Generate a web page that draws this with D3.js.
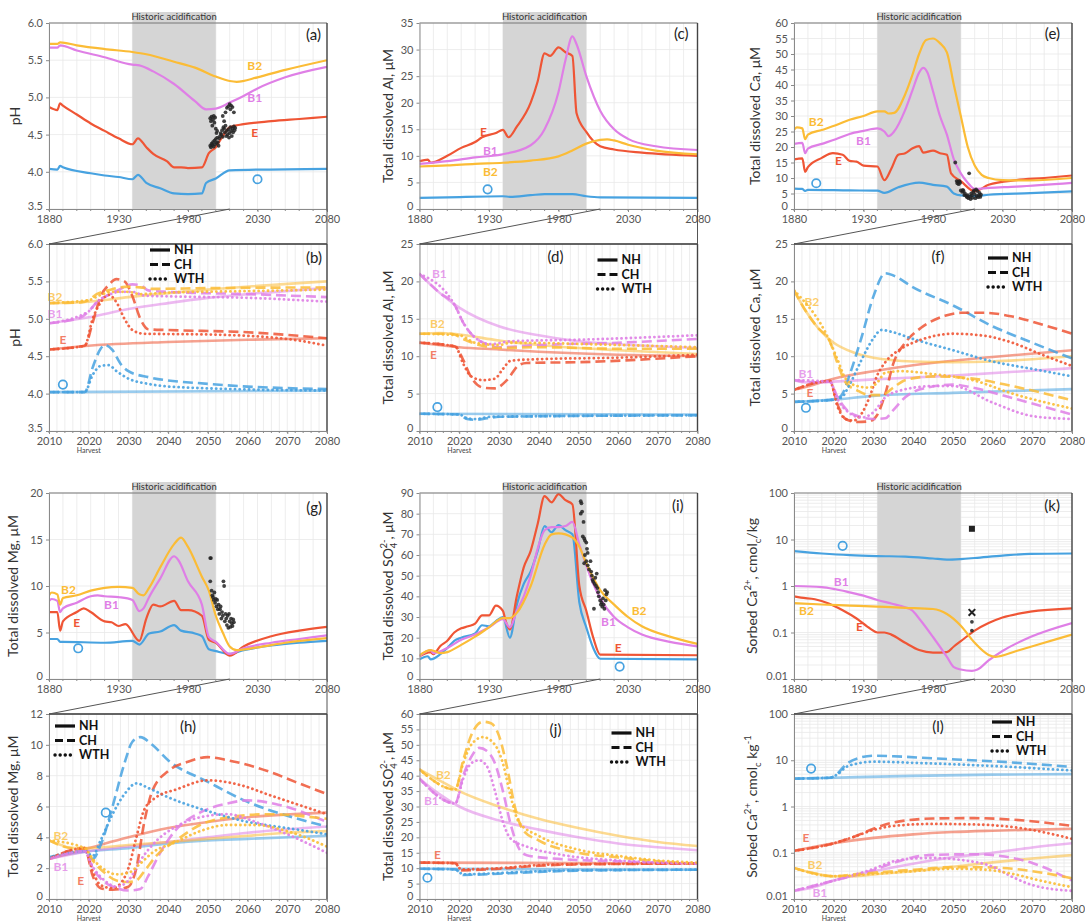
<!DOCTYPE html>
<html><head><meta charset="utf-8">
<script src="https://cdn.jsdelivr.net/npm/d3@7"></script>
<style>
body { margin: 0; background: #fff; }
svg { font-family: Lato, "Open Sans", sans-serif; }
</style></head>
<body><svg id="chart" width="1085" height="922"></svg>
<script>
// Horizon colours: O, E, B1, B2.
const horizonColors = { O: '#47a2e0', E: '#ef5535', B1: '#df7fe6', B2: '#fbbc36' };
const harvestTypes = ['NH', 'CH', 'WTH'];

// ---- (a) pH, 1880-2080 ----
const phHist = {
  O: [[1880,4.04],[1886,4.03],[1888,4.08],[1890,4.06],[1910,3.98],[1920,3.95],[1930,3.93],[1940,3.90],[1944,3.96],[1950,3.85],[1960,3.78],[1970,3.71],[1980,3.70],[1990,3.71],[1993,3.85],[2000,3.91],[2010,4.02],[2080,4.04]],
  E: [[1880,4.87],[1886,4.83],[1888,4.92],[1890,4.89],[1900,4.77],[1910,4.65],[1920,4.55],[1930,4.45],[1940,4.37],[1944,4.45],[1950,4.33],[1955,4.24],[1965,4.14],[1970,4.06],[1975,4.06],[1980,4.05],[1990,4.06],[1995,4.25],[2000,4.33],[2005,4.48],[2010,4.60],[2020,4.64],[2040,4.68],[2060,4.71],[2080,4.74]],
  B1: [[1880,5.67],[1886,5.67],[1888,5.70],[1900,5.63],[1920,5.54],[1940,5.44],[1945,5.43],[1955,5.35],[1970,5.18],[1985,4.95],[1993,4.84],[2000,4.85],[2010,4.93],[2020,5.02],[2030,5.12],[2050,5.27],[2080,5.41]],
  B2: [[1880,5.72],[1886,5.72],[1888,5.74],[1900,5.70],[1920,5.65],[1940,5.61],[1950,5.58],[1970,5.48],[1985,5.40],[2000,5.28],[2010,5.22],[2015,5.21],[2030,5.27],[2050,5.37],[2080,5.50]]
};
const phObs = [[1996,4.72],[1996.5,4.68],[1997,4.74],[1997.5,4.62],[1998,4.70],[1998.5,4.75],[1999,4.66],[1999.5,4.73],[2000,4.58],[2000.5,4.52],[2001,4.55],
  [1996,4.35],[1996.5,4.33],[1997,4.38],[1997.5,4.36],[1998,4.40],[1998.5,4.34],[1999,4.42],[1999.5,4.37],[2000,4.44],[2000.5,4.39],[2001,4.46],[2001.5,4.40],[2002,4.35],[2002.5,4.45],
  [2003,4.48],[2003.5,4.52],[2004,4.50],[2004.5,4.56],[2005,4.47],[2005.5,4.60],[2006,4.58],[2006.5,4.53],[2007,4.62],[2007.5,4.48],[2008,4.55],[2008.5,4.50],[2009,4.57],[2009.5,4.46],[2010,4.52],[2010.5,4.60],[2011,4.55],[2011.5,4.48],[2012,4.58],[2012.5,4.53],[2013,4.61],[2013.5,4.56],[2014,4.59],
  [2007,4.80],[2008,4.86],[2009,4.88],[2010,4.91],[2010.5,4.84],[2011,4.89],[2012,4.87],[2013,4.80],[2006,4.68],[2005,4.75]];

// ---- (b) pH after harvest ----
const phHarv = {
  NH: {
    O: [[2010,4.02],[2080,4.04]],
    E: [[2010,4.59],[2020,4.64],[2040,4.69],[2060,4.72],[2080,4.74]],
    B1: [[2010,4.94],[2020,5.02],[2030,5.13],[2040,5.21],[2050,5.28],[2060,5.33],[2080,5.41]],
    B2: [[2010,5.21],[2020,5.23],[2030,5.29],[2050,5.39],[2080,5.50]]
  },
  CH: {
    O: [[2010,4.02],[2019,4.02],[2021,4.35],[2023,4.60],[2024,4.65],[2026,4.58],[2028,4.40],[2030,4.30],[2035,4.22],[2050,4.13],[2080,4.06]],
    E: [[2010,4.59],[2019,4.64],[2021,4.95],[2023,5.30],[2025,5.45],[2027,5.53],[2029,5.50],[2031,5.30],[2033,5.00],[2035,4.86],[2040,4.85],[2060,4.82],[2080,4.74]],
    B1: [[2010,4.94],[2018,5.02],[2020,5.10],[2022,5.22],[2025,5.32],[2028,5.40],[2031,5.46],[2033,5.45],[2035,5.38],[2040,5.36],[2060,5.33],[2080,5.29]],
    B2: [[2010,5.21],[2018,5.22],[2020,5.25],[2022,5.33],[2025,5.38],[2028,5.42],[2030,5.43],[2033,5.42],[2036,5.40],[2050,5.41],[2080,5.42]]
  },
  WTH: {
    O: [[2010,4.02],[2019,4.02],[2021,4.25],[2023,4.37],[2025,4.38],[2027,4.30],[2030,4.20],[2035,4.13],[2045,4.08],[2080,4.04]],
    E: [[2010,4.59],[2019,4.64],[2021,5.00],[2023,5.22],[2025,5.32],[2027,5.22],[2029,5.00],[2031,4.85],[2034,4.80],[2050,4.79],[2070,4.73],[2080,4.64]],
    B1: [[2010,4.94],[2020,5.10],[2022,5.22],[2025,5.32],[2028,5.36],[2031,5.36],[2034,5.31],[2040,5.30],[2060,5.28],[2080,5.23]],
    B2: [[2010,5.21],[2020,5.25],[2023,5.32],[2026,5.36],[2030,5.36],[2033,5.33],[2040,5.35],[2060,5.37],[2080,5.39]]
  }
};

// ---- (c) dissolved Al, 1880-2080 ----
const alHist = {
  O: [[1880,2.1],[1900,2.2],[1940,2.4],[1945,2.3],[1960,2.6],[1970,2.8],[1990,2.8],[2000,2.4],[2010,2.2],[2080,2.1]],
  E: [[1880,9.0],[1886,9.3],[1888,8.7],[1900,10],[1910,11.5],[1920,12.6],[1925,13.5],[1935,14.3],[1940,14.9],[1944,13.5],[1950,15.5],[1960,20],[1965,24],[1970,29.3],[1974,28.8],[1980,30.4],[1985,29.5],[1990,28.8],[1993,18],[2000,14.5],[2010,11.8],[2020,11.2],[2040,10.6],[2080,10.0]],
  B1: [[1880,8.5],[1900,9.0],[1920,9.7],[1940,10.3],[1960,12],[1970,15],[1980,22],[1985,28],[1990,32.5],[1993,31],[2000,25],[2010,18.5],[2020,15],[2030,13.2],[2050,11.8],[2080,11.1]],
  B2: [[1880,8.0],[1900,8.2],[1920,8.5],[1940,8.7],[1960,9.1],[1980,9.9],[1990,11],[2000,12.3],[2010,13.0],[2015,13.1],[2020,12.9],[2030,12.1],[2050,11.0],[2080,10.3]]
};

// ---- (d) dissolved Al after harvest ----
const alHarv = {
  NH: {
    O: [[2010,2.3],[2080,2.2]],
    E: [[2010,11.8],[2020,11.2],[2030,10.9],[2040,10.6],[2060,10.2],[2080,10.0]],
    B1: [[2010,21],[2015,18.5],[2020,16.5],[2030,14.0],[2040,12.8],[2050,12.0],[2060,11.6],[2080,11.1]],
    B2: [[2010,13.0],[2015,13.1],[2020,12.9],[2030,12.1],[2040,11.5],[2060,10.8],[2080,10.3]]
  },
  CH: {
    O: [[2010,2.3],[2020,2.2],[2022,1.6],[2024,1.5],[2027,1.7],[2030,1.9],[2080,2.1]],
    E: [[2010,11.8],[2019,11.3],[2021,9.5],[2023,7.2],[2026,5.8],[2029,5.7],[2032,6.8],[2035,8.8],[2037,9.1],[2050,9.2],[2080,10.0]],
    B1: [[2010,21],[2015,18.5],[2019,16.7],[2021,14.5],[2023,13.0],[2026,11.8],[2030,11.2],[2040,11.5],[2060,11.8],[2080,12.3]],
    B2: [[2010,13.0],[2018,13.0],[2021,12.3],[2025,11.5],[2030,11.1],[2040,11.2],[2060,11.0],[2080,11.0]]
  },
  WTH: {
    O: [[2010,2.3],[2020,2.2],[2022,1.7],[2024,1.6],[2028,1.9],[2080,2.1]],
    E: [[2010,11.8],[2019,11.3],[2021,9.0],[2023,7.3],[2026,6.8],[2029,7.0],[2031,8.3],[2033,9.4],[2040,9.6],[2060,9.8],[2080,10.2]],
    B1: [[2010,21],[2019,16.7],[2021,14.5],[2024,12.5],[2028,11.6],[2033,12.0],[2050,12.2],[2080,12.8]],
    B2: [[2010,13.0],[2020,12.8],[2024,11.8],[2030,11.5],[2033,11.8],[2060,11.5],[2080,11.2]]
  }
};

// ---- (e) dissolved Ca, 1880-2080 ----
const caHist = {
  O: [[1880,6.6],[1886,6.5],[1888,5.8],[1890,6.2],[1920,6.0],[1940,5.9],[1945,5.2],[1955,7.0],[1970,8.5],[1980,7.8],[1990,7.2],[1995,5.0],[2000,4.4],[2010,4.2],[2020,4.6],[2050,5.1],[2080,5.7]],
  E: [[1880,16],[1886,16.3],[1888,12],[1890,13.5],[1900,16.5],[1908,18],[1915,17.5],[1920,15.5],[1925,15.3],[1930,14],[1940,13.7],[1945,9.3],[1950,13],[1955,17.5],[1960,18],[1965,19.5],[1970,20.3],[1973,18.2],[1980,18.8],[1985,18],[1990,17.5],[1993,11.5],[2000,9],[2010,5.7],[2020,7.8],[2040,9.3],[2060,10.0],[2080,10.8]],
  B1: [[1880,21],[1886,21.3],[1888,18],[1890,19.5],[1900,21],[1910,22.5],[1920,24.2],[1930,25.2],[1940,26],[1945,25],[1948,23.5],[1952,25],[1960,32],[1965,38],[1970,44],[1973,45.5],[1976,44],[1980,38],[1985,30],[1990,24],[1995,16],[2000,11.5],[2005,8.5],[2010,6.5],[2020,6.8],[2040,7.2],[2080,8.4]],
  B2: [[1880,25.5],[1882,26.3],[1886,26],[1888,22.5],[1890,24],[1900,25.5],[1910,27],[1920,28.8],[1930,30],[1940,31.5],[1945,31.5],[1948,30.8],[1952,31],[1960,37],[1965,43],[1970,50],[1975,54.5],[1980,55],[1985,53.5],[1990,50.5],[1995,40],[2000,30],[2005,20],[2010,14],[2015,11],[2020,10],[2030,9.3],[2050,9.2],[2080,10.0]]
};
const caObs = [[1996,15],[1997,9],[1997.5,8.3],[1998,8.8],[1998.5,8],[1999,9],[1999.5,8.5],[2000,6],[2001,5.5],[2001.5,6.2],[2002,5.8],[2002.5,4.5],[2003,5],[2004,4.2],[2004.5,3.8],[2005,4.5],[2005.5,3.5],[2006,11.5],[2006.5,4],[2007,3.2],[2007.5,5],[2008,4.4],[2008.5,3.6],[2009,5.5],[2009.5,6],[2010,4.8],[2010.5,3.5],[2011,6.3],[2011.5,4.2],[2012,5.8],[2012.5,3.8],[2013,4.5],[2013.5,5.2],[2014,3.9],[2014.5,4.6]];

// ---- (f) dissolved Ca after harvest ----
const caHarv = {
  NH: {
    O: [[2010,3.9],[2020,4.2],[2030,4.7],[2050,5.1],[2080,5.6]],
    E: [[2010,5.5],[2015,6.2],[2020,7.0],[2030,8.0],[2040,8.8],[2050,9.4],[2060,9.9],[2080,10.8]],
    B1: [[2010,6.8],[2013,6.5],[2016,6.5],[2020,6.6],[2030,6.9],[2050,7.4],[2080,8.4]],
    B2: [[2010,18.8],[2013,16],[2016,13.8],[2020,11.8],[2025,10.5],[2030,9.8],[2040,9.3],[2050,9.2],[2060,9.3],[2070,9.6],[2080,10.0]]
  },
  CH: {
    O: [[2010,3.9],[2020,4.2],[2022,4.8],[2024,7.5],[2027,12.5],[2030,18.0],[2033,21.1],[2035,20.8],[2040,19.2],[2050,16.8],[2060,14.0],[2070,11.8],[2080,9.7]],
    E: [[2010,5.5],[2019,6.7],[2021,3.5],[2023,1.6],[2026,1.2],[2029,1.3],[2031,2.2],[2033,5.0],[2035,9.0],[2038,11.8],[2042,13.8],[2048,15.4],[2052,15.8],[2058,15.8],[2065,15.3],[2072,14.3],[2080,13.0]],
    B1: [[2010,6.8],[2016,6.5],[2019,6.6],[2021,4.5],[2023,3.0],[2026,2.0],[2030,1.6],[2033,1.7],[2035,2.8],[2038,4.5],[2042,5.6],[2050,6.2],[2055,5.8],[2065,4.4],[2080,2.2]],
    B2: [[2010,18.8],[2013,16],[2016,13.8],[2019,12],[2021,9],[2023,6.5],[2026,5.4],[2029,4.8],[2032,4.8],[2035,5.8],[2038,6.8],[2045,7.3],[2055,7.0],[2065,6.0],[2080,4.1]]
  },
  WTH: {
    O: [[2010,3.9],[2020,4.2],[2022,4.5],[2024,6.2],[2027,9.5],[2030,12.4],[2032,13.5],[2035,13.2],[2040,12.3],[2050,10.8],[2060,9.3],[2070,8.3],[2080,7.3]],
    E: [[2010,5.5],[2019,6.7],[2021,3.2],[2023,1.6],[2025,1.4],[2027,2.3],[2029,4.5],[2031,7.5],[2033,9.2],[2037,11.0],[2042,12.2],[2050,13.0],[2057,12.8],[2065,11.8],[2072,10.3],[2080,8.7]],
    B1: [[2010,6.8],[2019,6.6],[2021,4.2],[2024,2.4],[2027,1.8],[2030,2.5],[2033,4.5],[2036,5.3],[2045,6.0],[2050,6.0],[2060,3.8],[2070,2.0],[2080,1.6]],
    B2: [[2010,18.8],[2019,12],[2021,9.5],[2023,7.0],[2026,6.0],[2029,5.8],[2031,6.5],[2033,7.8],[2037,8.0],[2045,7.6],[2055,6.8],[2065,5.0],[2080,3.0]]
  }
};

// ---- (g) dissolved Mg, 1880-2080 ----
const mgHist = {
  O: [[1880,4.3],[1886,4.3],[1888,4.0],[1890,4.0],[1920,3.9],[1940,4.1],[1945,3.7],[1952,4.9],[1960,5.1],[1970,5.8],[1975,5.2],[1985,4.9],[1990,4.6],[1995,3.2],[2000,3.0],[2010,2.7],[2020,3.1],[2040,3.6],[2060,3.9],[2080,4.1]],
  E: [[1880,7.2],[1886,7.2],[1888,5.2],[1890,6.2],[1900,7.2],[1905,7.6],[1910,7.2],[1920,6.2],[1925,6.1],[1930,5.7],[1935,5.9],[1945,4.1],[1950,6.5],[1955,8.0],[1960,7.8],[1970,8.4],[1975,7.4],[1980,7.4],[1990,6.8],[1995,4.2],[2000,3.9],[2010,2.5],[2020,3.5],[2040,4.6],[2060,5.2],[2080,5.6]],
  B1: [[1880,8.4],[1882,8.6],[1886,8.4],[1888,7.2],[1890,7.6],[1900,8.2],[1910,8.9],[1915,9.0],[1920,8.9],[1930,8.8],[1940,8.5],[1945,7.3],[1948,7.6],[1952,8.8],[1960,10.8],[1970,13.2],[1973,12.8],[1980,10.5],[1990,8.0],[1995,4.5],[2000,4.0],[2010,2.7],[2020,3.3],[2040,3.9],[2060,4.3],[2080,4.7]],
  B2: [[1880,9.0],[1882,9.3],[1886,9.1],[1888,8.0],[1890,8.7],[1900,9.0],[1910,9.5],[1920,9.8],[1930,9.9],[1940,9.8],[1945,9.1],[1948,9.0],[1952,9.8],[1960,12],[1970,14.5],[1975,15.2],[1980,14.2],[1990,11.0],[1995,9.5],[2000,6.8],[2005,5.0],[2010,3.5],[2015,3.1],[2030,3.4],[2050,3.9],[2080,4.4]]
};
const mgObs = [[1996,13],[1996.5,13],[1996,10.5],[1997,9.5],[1997.5,9],[1998,8.8],[1998.5,8.5],[1999,9.3],[1999.5,8.2],[2000,8.6],[2000.5,7.8],[2001,8.5],[2001.5,7.5],[2002,8],[2002.5,7],[2003,7.5],[2003.5,7.8],[2004,6.5],[2004.5,7.2],[2005,6.8],[2005.5,10.5],[2006,10],[2006.5,6.2],[2007,7],[2007.5,6.5],[2008,5.8],[2008.5,6.8],[2009,5.5],[2009.5,7],[2010,6.2],[2010.5,5.6],[2011,6.5],[2011.5,6],[2012,5.7],[2012.5,6.4],[2013,6.1]];

// ---- (h) dissolved Mg after harvest ----
const mgHarv = {
  NH: {
    O: [[2010,2.7],[2020,3.1],[2030,3.3],[2040,3.6],[2050,3.8],[2060,3.9],[2080,4.1]],
    E: [[2010,2.6],[2020,3.3],[2030,4.0],[2040,4.6],[2050,5.0],[2060,5.3],[2080,5.6]],
    B1: [[2010,2.6],[2020,3.1],[2030,3.4],[2040,3.7],[2050,4.0],[2060,4.3],[2080,4.7]],
    B2: [[2010,3.8],[2013,3.5],[2016,3.3],[2020,3.3],[2030,3.5],[2040,3.7],[2050,3.9],[2060,4.1],[2070,4.3],[2080,4.4]]
  },
  CH: {
    O: [[2010,2.7],[2019,3.1],[2021,2.6],[2023,3.5],[2026,6.0],[2029,8.8],[2031,10.2],[2033,10.5],[2036,10.0],[2040,9.0],[2050,7.6],[2060,6.3],[2070,5.4],[2080,4.7]],
    E: [[2010,2.6],[2019,3.3],[2021,1.5],[2023,0.7],[2026,0.6],[2030,0.8],[2032,2.0],[2034,5.0],[2036,7.0],[2040,8.3],[2045,8.9],[2050,9.2],[2055,9.0],[2065,8.3],[2072,7.6],[2080,6.8]],
    B1: [[2010,2.6],[2019,3.1],[2021,2.0],[2024,1.1],[2027,0.7],[2030,0.55],[2033,0.65],[2035,1.5],[2038,3.0],[2042,4.5],[2048,5.6],[2055,6.2],[2060,6.4],[2068,6.1],[2080,5.0]],
    B2: [[2010,3.8],[2016,3.3],[2019,3.3],[2021,2.5],[2024,1.7],[2027,1.2],[2030,1.1],[2032,1.2],[2034,1.8],[2037,2.8],[2042,3.8],[2048,4.8],[2055,5.3],[2065,5.5],[2080,5.2]]
  },
  WTH: {
    O: [[2010,2.7],[2019,3.1],[2021,2.8],[2023,3.8],[2026,5.5],[2029,6.8],[2032,7.5],[2035,7.2],[2040,6.6],[2050,5.7],[2060,5.0],[2070,4.6],[2080,4.2]],
    E: [[2010,2.6],[2019,3.3],[2021,1.8],[2023,0.9],[2026,0.7],[2028,1.0],[2030,2.0],[2032,4.0],[2034,5.8],[2037,6.6],[2042,7.1],[2050,7.7],[2058,7.4],[2066,6.7],[2080,5.5]],
    B1: [[2010,2.6],[2019,3.1],[2021,2.1],[2024,1.2],[2027,0.8],[2030,1.2],[2033,2.5],[2036,3.5],[2042,4.7],[2048,5.3],[2055,5.5],[2062,5.0],[2070,4.2],[2080,3.0]],
    B2: [[2010,3.8],[2019,3.3],[2021,2.6],[2024,1.9],[2027,1.6],[2030,1.7],[2033,2.3],[2036,3.0],[2042,3.7],[2048,4.4],[2055,4.8],[2062,4.8],[2070,4.4],[2080,3.4]]
  }
};

// ---- (i) dissolved SO4, 1880-2080 ----
const so4Hist = {
  O: [[1880,9.5],[1886,11],[1888,9.5],[1895,12],[1900,15],[1905,18.5],[1910,20],[1920,22],[1925,26],[1930,25.5],[1935,28],[1940,30],[1945,20],[1950,36],[1955,46],[1960,52],[1965,62],[1970,74],[1975,71],[1980,74.5],[1985,72],[1990,70],[1995,37],[2000,25],[2005,15],[2010,9.8],[2080,9.5]],
  E: [[1880,11],[1888,13],[1890,12],[1895,16],[1900,18.5],[1905,22.5],[1910,24.5],[1915,25.5],[1920,26.8],[1925,30.8],[1930,30.8],[1935,35.5],[1940,33],[1942,28],[1945,24],[1950,40],[1955,54],[1960,62],[1965,75],[1970,88.5],[1975,85.5],[1980,89.5],[1985,86.5],[1990,84.5],[1995,45],[2000,33],[2005,20],[2010,11.8],[2080,11.5]],
  B1: [[1880,11],[1888,14],[1890,12.5],[1900,15],[1910,19],[1920,21.5],[1930,25],[1940,29],[1945,25],[1950,33],[1955,40],[1960,50],[1965,63],[1970,72],[1975,73.5],[1980,73.5],[1985,74],[1990,76],[1995,65],[2000,55],[2005,46],[2010,39],[2020,30],[2030,25],[2040,21.5],[2060,18],[2080,15.8]],
  B2: [[1880,11.5],[1888,14],[1895,12.5],[1900,13],[1910,16.5],[1920,20.5],[1930,25],[1940,29.5],[1945,29.5],[1950,32],[1960,45],[1970,65],[1975,70],[1980,70.5],[1990,68.5],[1995,64],[2000,56],[2005,49],[2010,43],[2020,36],[2030,30],[2040,25.5],[2060,20.5],[2080,17]]
};
const so4Obs = [[1996,86],[1996.5,85],[1996,80],[1997,81],[1998,76],[1997.5,69],[1998.5,68],[1999,67],[2000,66],[2000.5,63],[2001,61],[1999,60],[2000,57],[1998.5,56],[2001,55],[2002,53],[2003,57],[2003.5,52],[2004,50],[2004.5,48],[2005,47],[2006,46],[2006.5,49],[2007,45],[2007.5,51],[2008,44],[2008.5,42],[2009,40],[2010,38],[2010.5,36],[2011,37],[2011.5,35],[2012,39],[2012.5,36],[2013,34],[2014,38],[2014.5,41],[2013.5,43],[2005.5,34],[2015,42]];

// ---- (j) dissolved SO4 after harvest ----
const so4Harv = {
  NH: {
    O: [[2010,9.8],[2080,9.5]],
    E: [[2010,11.8],[2080,11.5]],
    B1: [[2010,39],[2015,34],[2020,30],[2030,25.5],[2040,22.5],[2050,20],[2060,18],[2070,16.8],[2080,15.8]],
    B2: [[2010,42],[2015,38.5],[2020,35],[2030,30],[2040,26],[2050,23],[2060,20.5],[2070,18.5],[2080,17.2]]
  },
  CH: {
    O: [[2010,9.8],[2019,9.6],[2021,7.8],[2030,8.2],[2040,8.8],[2050,9.2],[2080,9.5]],
    E: [[2010,11.8],[2019,11.6],[2020.5,9.3],[2030,9.8],[2040,10.8],[2050,11.2],[2080,11.5]],
    B1: [[2010,39],[2019,31],[2021,40],[2023,46],[2025,49],[2027,48],[2029,44],[2031,35],[2033,24],[2035,16.5],[2037,14.2],[2045,13],[2060,12.2],[2080,11.5]],
    B2: [[2010,42],[2019,35.5],[2021,45],[2023,53],[2026,57.5],[2028,57],[2030,53],[2032,43],[2034,30],[2036,22.5],[2040,19],[2050,15],[2060,13.5],[2070,12.2],[2080,11.5]]
  },
  WTH: {
    O: [[2010,9.8],[2019,9.6],[2021,8.0],[2030,8.4],[2040,9.0],[2050,9.3],[2080,9.5]],
    E: [[2010,11.8],[2019,11.6],[2020.5,9.6],[2030,10.0],[2040,11.0],[2050,11.3],[2080,11.5]],
    B1: [[2010,39],[2019,31],[2021,39],[2023,44],[2025,45],[2027,43],[2029,35],[2031,25],[2033,19.5],[2037,17],[2045,14.5],[2060,12.5],[2080,11.5]],
    B2: [[2010,42],[2019,35.5],[2021,44],[2023,50],[2026,52.5],[2029,50],[2031,44],[2033,33],[2035,25],[2040,20.5],[2050,16],[2060,14],[2070,12.5],[2080,11.8]]
  }
};

// ---- (k) sorbed Ca, 1880-2080 ----
const sorbHist = {
  O: [[1880,5.6],[1900,5.0],[1920,4.6],[1940,4.4],[1960,4.3],[1980,3.9],[1990,3.7],[2000,3.8],[2010,4.0],[2030,4.5],[2050,4.9],[2080,5.0]],
  E: [[1880,0.6],[1885,0.56],[1895,0.52],[1905,0.42],[1915,0.3],[1925,0.2],[1935,0.12],[1940,0.1],[1945,0.1],[1950,0.09],[1960,0.06],[1970,0.042],[1980,0.037],[1990,0.038],[1995,0.05],[2000,0.065],[2010,0.11],[2020,0.16],[2030,0.21],[2050,0.28],[2080,0.33]],
  B1: [[1880,1.0],[1900,0.95],[1910,0.85],[1920,0.73],[1930,0.62],[1940,0.5],[1950,0.42],[1960,0.35],[1965,0.3],[1970,0.2],[1980,0.08],[1990,0.03],[1995,0.018],[2000,0.016],[2008,0.015],[2012,0.016],[2020,0.025],[2030,0.04],[2050,0.08],[2080,0.16]],
  B2: [[1880,0.43],[1900,0.4],[1920,0.38],[1940,0.36],[1960,0.34],[1980,0.32],[1990,0.25],[2000,0.14],[2010,0.06],[2020,0.033],[2025,0.03],[2040,0.04],[2060,0.06],[2080,0.09]]
};
const sorbObs = [[2008,17,'square'],[2008,0.27,'cross'],[2008,0.17,'dot'],[2008,0.11,'dot']];

// ---- (l) sorbed Ca after harvest ----
const sorbHarv = {
  NH: {
    O: [[2010,4.0],[2020,4.2],[2040,4.6],[2060,4.9],[2080,5.0]],
    E: [[2010,0.11],[2020,0.16],[2030,0.21],[2040,0.25],[2050,0.28],[2060,0.3],[2080,0.33]],
    B1: [[2010,0.015],[2015,0.018],[2020,0.025],[2030,0.04],[2040,0.058],[2050,0.08],[2060,0.1],[2070,0.13],[2080,0.16]],
    B2: [[2010,0.047],[2015,0.036],[2020,0.031],[2025,0.031],[2030,0.034],[2040,0.04],[2050,0.05],[2060,0.062],[2070,0.075],[2080,0.089]]
  },
  CH: {
    O: [[2010,4.0],[2019,4.2],[2021,5.2],[2023,8.0],[2026,11],[2030,12.5],[2035,12.2],[2045,11],[2060,9.5],[2080,7.2]],
    E: [[2010,0.11],[2020,0.16],[2025,0.22],[2030,0.33],[2035,0.45],[2045,0.55],[2055,0.56],[2065,0.52],[2080,0.38]],
    B1: [[2010,0.015],[2020,0.025],[2030,0.042],[2035,0.06],[2040,0.08],[2045,0.09],[2055,0.093],[2062,0.085],[2070,0.06],[2080,0.025]],
    B2: [[2010,0.047],[2015,0.036],[2020,0.031],[2025,0.034],[2030,0.037],[2040,0.043],[2050,0.049],[2060,0.048],[2070,0.04],[2080,0.028]]
  },
  WTH: {
    O: [[2010,4.0],[2019,4.2],[2021,5.0],[2023,7.0],[2026,8.5],[2030,9.3],[2040,8.8],[2060,7.5],[2080,6.0]],
    E: [[2010,0.11],[2020,0.16],[2025,0.22],[2030,0.31],[2035,0.38],[2045,0.42],[2055,0.41],[2065,0.36],[2070,0.31],[2080,0.2]],
    B1: [[2010,0.015],[2020,0.025],[2030,0.045],[2035,0.065],[2040,0.075],[2045,0.077],[2052,0.07],[2060,0.05],[2065,0.03],[2070,0.02],[2080,0.015]],
    B2: [[2010,0.047],[2020,0.031],[2030,0.035],[2040,0.04],[2050,0.045],[2058,0.043],[2065,0.035],[2072,0.025],[2080,0.018]]
  }
};

// Horizon tags placed on each panel, in data units: [horizon, year, value].
const tagsA = [['B2',2028,5.42],['B1',2028,5.0],['E',2028,4.53],['O',2030,3.9]];
const tagsB = [['B2',2011.5,5.30],['B1',2011.5,5.07],['E',2013.5,4.72],['O',2013.5,4.12]];
const tagsC = [['E',1926,14.5],['B1',1931,11],['B2',1931,7],['O',1929,3.7]];
const tagsD = [['B1',2015,21],['B2',2014.5,14.3],['E',2013.5,10.2],['O',2014.5,3.2]];
const tagsE = [['B2',1896,28],['B1',1930,22],['E',1912,15.4],['O',1896,8.3]];
const tagsF = [['B2',2014.5,17.3],['B1',2013,7.6],['E',2014,5.1],['O',2013,3.1]];
const tagsG = [['B2',1894,9.6],['B1',1925,8.0],['E',1900,6.0],['O',1901,3.3]];
const tagsH = [['B2',2013,4.1],['B1',2013,2.1],['E',2018,1.2],['O',2024.3,5.6]];
const tagsI = [['B2',2038,33],['B1',2016,27.8],['E',2023,14.9],['O',2024,6]];
const tagsJ = [['B2',2016,40.3],['B1',2013,31.7],['E',2014.5,14.3],['O',2012,6.9]];
const tagsK = [['O',1915,7.3],['B1',1914,1.25],['B2',1889,0.29],['E',1927,0.13]];
const tagsL = [['O',2014.3,6.6],['E',2013,0.21],['B2',2015.3,0.056],['B1',2016.5,0.0139]];

const svg = d3.select('#chart');
const AXIS_GRAY = '#8a8a8a';
const TEXT_GRAY = '#555';

function addTitle(g, parts, x, y) {
  const t = g.append('text')
    .attr('transform', `translate(${x},${y}) rotate(-90)`)
    .attr('text-anchor', 'middle').attr('font-size', 14).attr('fill', '#333');
  let cur = 0;
  parts.forEach(p => {
    const target = p.sub ? 4 : p.sup ? -6 : 0;
    const ts = t.append('tspan').attr('dy', target - cur).text(p.t);
    if (p.sub || p.sup) ts.attr('font-size', 9.5);
    if (p.dx) ts.attr('dx', p.dx);
    cur = target;
  });
}

function drawPanel(p) {
  const g = svg.append('g').attr('transform', `translate(${p.left},${p.top})`);
  const x = d3.scaleLinear().domain(p.xDomain).range([0, p.w]);
  const y = (p.log ? d3.scaleLog() : d3.scaleLinear()).domain(p.yDomain).range([p.h, 0]);

  // grid
  const grid = g.append('g').attr('stroke', '#e8e8e8').attr('stroke-width', 0.8);
  d3.range(p.xDomain[0], p.xDomain[1] + 0.01, p.gridStep).forEach(t =>
    grid.append('line').attr('x1', x(t)).attr('x2', x(t)).attr('y1', 0).attr('y2', p.h));
  let yGrid = p.yTicks;
  if (p.log) {
    yGrid = [];
    [0.01, 0.1, 1, 10].forEach(d => d3.range(1, 10).forEach(m => yGrid.push(d * m)));
  }
  yGrid.forEach(v => grid.append('line').attr('x1', 0).attr('x2', p.w).attr('y1', y(v)).attr('y2', y(v)));

  if (p.hist) {
    g.append('rect').attr('x', x(1940)).attr('width', x(2000) - x(1940))
      .attr('y', -11).attr('height', p.h + 11).attr('fill', '#d5d5d5');
    g.append('text').attr('x', (x(1940) + x(2000)) / 2).attr('y', -3)
      .attr('text-anchor', 'middle').attr('font-size', 9.5).attr('fill', '#333')
      .text('Historic acidification');
  }

  const clipId = 'clip' + p.letter.replace(/\W/g, '');
  g.append('clipPath').attr('id', clipId).append('rect')
    .attr('x', 0).attr('y', 0).attr('width', p.w).attr('height', p.h);

  const line = d3.line().x(d => x(d[0])).y(d => y(d[1])).curve(d3.curveMonotoneX);
  const lines = g.append('g').attr('clip-path', `url(#${clipId})`).attr('fill', 'none');

  if (p.hist) {
    ['O', 'E', 'B1', 'B2'].forEach(k => lines.append('path')
      .attr('d', line(p.data[k])).attr('stroke', horizonColors[k]).attr('stroke-width', 2.2));
  } else {
    harvestTypes.forEach(ht => ['O', 'E', 'B1', 'B2'].forEach(k => {
      const path = lines.append('path').attr('d', line(p.data[ht][k]))
        .attr('stroke', horizonColors[k]).attr('stroke-width', 2.6);
      if (ht === 'NH') path.attr('stroke-opacity', 0.55);
      if (ht === 'CH') path.attr('stroke-dasharray', '10,5').attr('stroke-opacity', 0.85);
      if (ht === 'WTH') path.attr('stroke-dasharray', '0.1,4.6').attr('stroke-linecap', 'round')
        .attr('stroke-width', 2.8).attr('stroke-opacity', 0.9);
    }));
  }

  // observations
  if (p.obs) {
    p.obs.forEach(o => {
      const cx = x(o[0]), cy = y(o[1]);
      if (o[2] === 'square') g.append('rect').attr('x', cx - 3).attr('y', cy - 3).attr('width', 6).attr('height', 6).attr('fill', '#222');
      else if (o[2] === 'cross') g.append('path').attr('d', d3.symbol(d3.symbolX, 30)()).attr('transform', `translate(${cx},${cy})`).attr('stroke', '#222').attr('stroke-width', 2);
      else g.append('circle').attr('cx', cx).attr('cy', cy).attr('r', 1.9).attr('fill', '#222').attr('fill-opacity', 0.85);
    });
  }

  // horizon tags
  p.tags.forEach(([k, t, v]) => {
    if (k === 'O') {
      g.append('circle').attr('cx', x(t)).attr('cy', y(v)).attr('r', 4.2)
        .attr('fill', 'none').attr('stroke', horizonColors.O).attr('stroke-width', 1.7);
    } else {
      g.append('text').attr('x', x(t)).attr('y', y(v)).attr('dy', '0.35em')
        .attr('text-anchor', 'middle').attr('font-size', 12).attr('font-weight', 700)
        .attr('fill', horizonColors[k]).attr('fill-opacity', p.hist ? 1 : 0.75).text(k);
    }
  });

  // axes
  const xAxis = g.append('g').attr('transform', `translate(0,${p.h})`)
    .call(d3.axisBottom(x).tickValues(p.xTicks).tickFormat(d3.format('d')).tickSize(3).tickPadding(3).tickSizeOuter(0));
  const yAxis = g.append('g')
    .call(d3.axisLeft(y).tickValues(p.yTicks).tickFormat(p.yFmt).tickSize(3).tickSizeOuter(0));
  [xAxis, yAxis].forEach(a => {
    a.select('.domain').attr('stroke', AXIS_GRAY);
    a.selectAll('.tick line').attr('stroke', AXIS_GRAY);
    a.selectAll('.tick text').attr('fill', TEXT_GRAY).attr('font-size', 11)
      .attr('font-family', 'Lato, sans-serif');
  });
  // lift the bottom y label a little so it clears the first x label
  yAxis.selectAll('.tick text').filter(d => d === p.yDomain[0]).attr('dy', '0.02em');
  // minor x ticks
  d3.range(p.xDomain[0], p.xDomain[1] + 0.01, p.minorStep).forEach(t =>
    g.append('line').attr('x1', x(t)).attr('x2', x(t)).attr('y1', p.h).attr('y2', p.h + 2)
      .attr('stroke', AXIS_GRAY));

  // frame: top and right borders
  const frameCol = p.hist ? '#777' : '#333';
  g.append('line').attr('x1', 0).attr('x2', p.w).attr('y1', 0).attr('y2', 0)
    .attr('stroke', frameCol).attr('stroke-width', p.hist ? 1 : 1.4);
  g.append('line').attr('x1', p.w).attr('x2', p.w).attr('y1', 0).attr('y2', p.h)
    .attr('stroke', '#444').attr('stroke-width', 1.4);

  if (!p.hist) {
    g.append('text').attr('x', x(2020)).attr('y', p.h + 21.5).attr('text-anchor', 'middle')
      .attr('font-size', 7).attr('fill', '#444').text('Harvest');
  }

  // panel letter
  g.append('text').attr('x', p.letterPos[0]).attr('y', p.letterPos[1])
    .attr('text-anchor', p.letterPos[2]).attr('font-size', 15).attr('fill', '#222')
    .text(p.letter);

  // legend
  if (p.legend) {
    harvestTypes.forEach((ht, i) => {
      const ly = p.legend[1] + i * 14.5;
      const l = g.append('line').attr('x1', p.legend[0]).attr('x2', p.legend[0] + 20)
        .attr('y1', ly).attr('y2', ly).attr('stroke', '#111').attr('stroke-width', 3.2);
      if (ht === 'CH') l.attr('stroke-dasharray', '8,4');
      if (ht === 'WTH') l.attr('stroke-dasharray', '0.1,5').attr('stroke-linecap', 'round').attr('stroke-width', 3.4);
      g.append('text').attr('x', p.legend[0] + 24).attr('y', ly).attr('dy', '0.35em')
        .attr('font-size', 12.5).attr('font-weight', 700).attr('fill', '#111').text(ht);
    });
  }

  addTitle(svg, p.title, p.left + p.titleDx, p.top + p.h / 2);
  return x;
}

const colLeft = [49, 419.5, 794];
const W = 278;
const rowTop = [23, 244, 493, 714];
const rowH = [186, 187, 186, 185];
const fmt1 = d3.format('.1f');
const fmtD = d3.format('d');
const fmtLog = d => String(d);
const histX = { xDomain: [1880, 2080], xTicks: [1880, 1930, 1980, 2030, 2080], gridStep: 10, minorStep: 10, hist: true };
const harvX = { xDomain: [2010, 2080], xTicks: d3.range(2010, 2081, 10), gridStep: 2, minorStep: 2, hist: false };
const logTicks = [0.01, 0.1, 1, 10, 100];

const panels = [
  { ...histX, col: 0, row: 0, data: phHist, obs: phObs, tags: tagsA, yDomain: [3.5, 6], yTicks: d3.range(3.5, 6.01, 0.5), yFmt: fmt1,
    title: [{ t: 'pH' }], titleDx: -29, letter: '(a)', letterPos: [W - 6, 17, 'end'] },
  { ...harvX, col: 0, row: 1, data: phHarv, tags: tagsB, yDomain: [3.5, 6], yTicks: d3.range(3.5, 6.01, 0.5), yFmt: fmt1,
    title: [{ t: 'pH' }], titleDx: -29, letter: '(b)', letterPos: [W - 5, 19, 'end'], legend: [101, 6] },
  { ...histX, col: 1, row: 0, data: alHist, tags: tagsC, yDomain: [0, 35], yTicks: d3.range(0, 36, 5), yFmt: fmtD,
    title: [{ t: 'Total dissolved Al, μM' }], titleDx: -27, letter: '(c)', letterPos: [W - 9, 16, 'end'] },
  { ...harvX, col: 1, row: 1, data: alHarv, tags: tagsD, yDomain: [0, 25], yTicks: d3.range(0, 26, 5), yFmt: fmtD,
    title: [{ t: 'Total dissolved Al, μM' }], titleDx: -27, letter: '(d)', letterPos: [136, 18, 'middle'], legend: [178, 16] },
  { ...histX, col: 2, row: 0, data: caHist, obs: caObs, tags: tagsE, yDomain: [0, 60], yTicks: d3.range(0, 61, 5), yFmt: fmtD,
    title: [{ t: 'Total dissolved Ca, μM' }], titleDx: -34, letter: '(e)', letterPos: [W - 12, 16, 'end'] },
  { ...harvX, col: 2, row: 1, data: caHarv, tags: tagsF, yDomain: [0, 25], yTicks: d3.range(0, 26, 5), yFmt: fmtD,
    title: [{ t: 'Total dissolved Ca, μM' }], titleDx: -34, letter: '(f)', letterPos: [144, 18, 'middle'], legend: [194, 14] },
  { ...histX, col: 0, row: 2, data: mgHist, obs: mgObs, tags: tagsG, yDomain: [0, 20], yTicks: d3.range(0, 21, 5), yFmt: fmtD,
    title: [{ t: 'Total dissolved Mg, μM' }], titleDx: -31, letter: '(g)', letterPos: [W - 5, 20, 'end'] },
  { ...harvX, col: 0, row: 3, data: mgHarv, tags: tagsH, yDomain: [0, 12], yTicks: d3.range(0, 13, 2), yFmt: fmtD,
    title: [{ t: 'Total dissolved Mg, μM' }], titleDx: -31, letter: '(h)', letterPos: [139, 18, 'middle'], legend: [6, 12] },
  { ...histX, col: 1, row: 2, data: so4Hist, obs: so4Obs, tags: tagsI, yDomain: [0, 90], yTicks: d3.range(0, 91, 10), yFmt: fmtD,
    title: [{ t: 'Total dissolved SO' }, { t: '4', sub: true }, { t: '2-', sup: true, dx: -6 }, { t: ', μM' }], titleDx: -27, letter: '(i)', letterPos: [W - 14, 18, 'end'] },
  { ...harvX, col: 1, row: 3, data: so4Harv, tags: tagsJ, yDomain: [0, 60], yTicks: d3.range(0, 61, 5), yFmt: fmtD,
    title: [{ t: 'Total dissolved SO' }, { t: '4', sub: true }, { t: '2-', sup: true, dx: -6 }, { t: ', μM' }], titleDx: -27, letter: '(j)', letterPos: [136, 21, 'middle'], legend: [192, 19] },
  { ...histX, col: 2, row: 2, data: sorbHist, obs: sorbObs, tags: tagsK, log: true, yDomain: [0.01, 100], yTicks: logTicks, yFmt: fmtLog,
    title: [{ t: 'Sorbed Ca' }, { t: '2+', sup: true }, { t: ', cmol' }, { t: 'c', sub: true }, { t: '/kg' }], titleDx: -37, letter: '(k)', letterPos: [W - 12, 18, 'end'] },
  { ...harvX, col: 2, row: 3, data: sorbHarv, tags: tagsL, log: true, yDomain: [0.01, 100], yTicks: logTicks, yFmt: fmtLog,
    title: [{ t: 'Sorbed Ca' }, { t: '2+', sup: true }, { t: ', cmol' }, { t: 'c', sub: true }, { t: ' kg' }, { t: '-1', sup: true }], titleDx: -37, letter: '(l)', letterPos: [144, 18, 'middle'], legend: [198, 8] }
];

const xScales = {};
panels.forEach(p => {
  p.left = colLeft[p.col];
  p.top = rowTop[p.row];
  p.w = W;
  p.h = rowH[p.row];
  xScales[p.col + '-' + p.row] = drawPanel(p);
});

// zoom connectors from each history panel to the harvest panel below it
[0, 1, 2].forEach(c => [0, 2].forEach(r => {
  const xTop = xScales[c + '-' + r];
  const yFrom = rowTop[r] + rowH[r];
  const yTo = rowTop[r + 1];
  const conn = svg.append('g').attr('stroke', '#555').attr('stroke-width', 1);
  conn.append('line').attr('x1', colLeft[c] + xTop(2010)).attr('y1', yFrom)
    .attr('x2', colLeft[c]).attr('y2', yTo);
  conn.append('line').attr('x1', colLeft[c] + W).attr('y1', yFrom)
    .attr('x2', colLeft[c] + W).attr('y2', yTo);
}));
</script>
</body></html>
